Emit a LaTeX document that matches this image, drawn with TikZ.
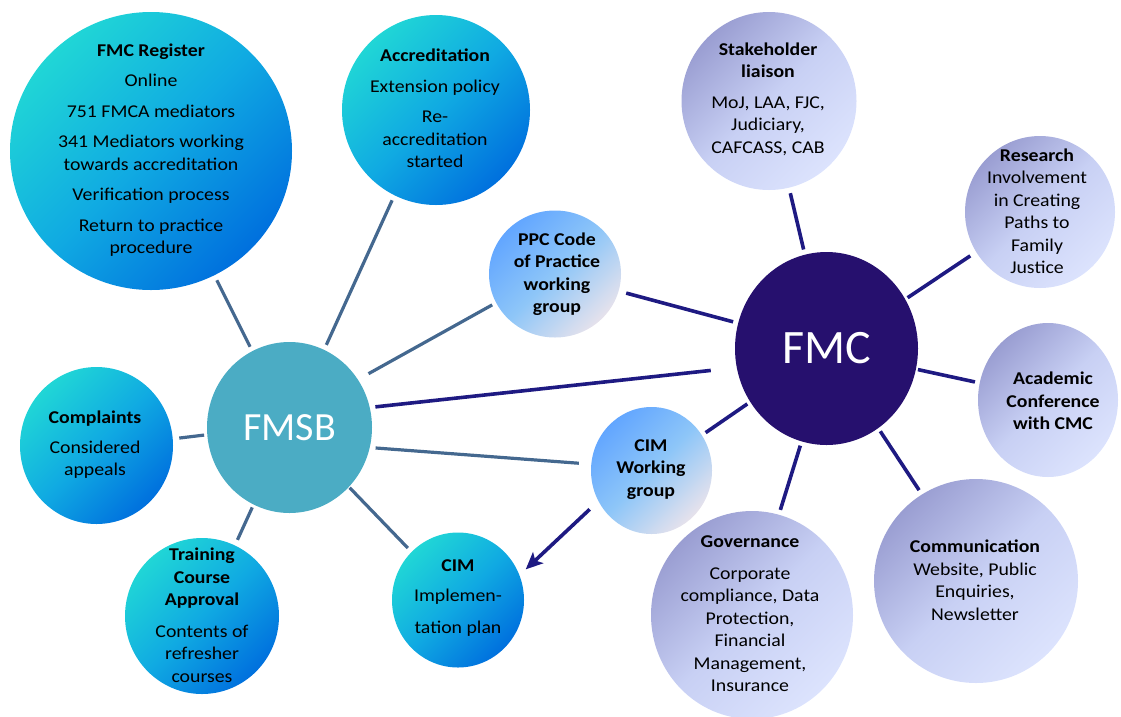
\documentclass[tikz,border=0pt]{standalone}
\usepackage{fontspec}
\setmainfont{Carlito}[FakeStretch=1.1]
\newfontfamily\bigfont{Carlito}
\usetikzlibrary{shapes.geometric,arrows.meta}
\definecolor{cTealA}{HTML}{20D6D6}
\definecolor{cTealM}{HTML}{10AAE2}
\definecolor{cTealB}{HTML}{0070DE}
\definecolor{cLavA}{HTML}{9A9ED2}
\definecolor{cLavM}{HTML}{C8D0F4}
\definecolor{cLavB}{HTML}{DCE3FD}
\definecolor{cBlueA}{HTML}{62A6FF}
\definecolor{cBlueM}{HTML}{8EC6F8}
\definecolor{cBlueB}{HTML}{E6E2EC}
\definecolor{cFMSB}{HTML}{4BACC4}
\definecolor{cFMC}{HTML}{26106E}
\definecolor{cLineA}{HTML}{44688F}
\definecolor{cLineB}{HTML}{1E1A82}
\tikzset{
  ball/.style={ellipse, inner sep=0pt, draw=none},
  tealball/.style={ball, top color=cTealA, bottom color=cTealB, middle color=cTealM, shading angle=45},
  lavball/.style={ball, top color=cLavA, bottom color=cLavB, middle color=cLavM, shading angle=45},
  blueball/.style={ball, top color=cBlueA, bottom color=cBlueB, middle color=cBlueM, shading angle=45},
  txt/.style={align=center, inner sep=0pt, text=black, font=\fontsize{18}{22.5}\selectfont},
  linka/.style={draw=cLineA, line width=3.2pt},
  linkb/.style={draw=cLineB, line width=3.6pt},
}
\begin{document}
\begin{tikzpicture}[x=1pt,y=-1pt]
\useasboundingbox (0,0) rectangle (1121,716);
% circles
\node[tealball, minimum width=282pt, minimum height=278pt] (reg) at (151,151) {};
\node[tealball, minimum width=188pt, minimum height=190pt] (acc) at (436,110) {};
\node[blueball, minimum width=132pt, minimum height=127pt] (ppc) at (555,274) {};
\node[lavball, minimum width=175pt, minimum height=178pt] (stk) at (769,101) {};
\node[lavball, minimum width=150pt, minimum height=152pt] (res) at (1040,212) {};
\node[ball, fill=cFMC, minimum width=183pt, minimum height=193pt, text=white, font=\bigfont\fontsize{48}{52}\selectfont] (fmc) at (826.5,348.5) {FMC};
\node[lavball, minimum width=140pt, minimum height=154pt] (aca) at (1048,400) {};
\node[ball, fill=cFMSB, minimum width=165pt, minimum height=171pt, text=white, font=\bigfont\fontsize{40}{44}\selectfont] (fmsb) at (289.5,427.5) {FMSB};
\node[tealball, minimum width=153pt, minimum height=157pt] (cmp) at (96.5,445.5) {};
\node[tealball, minimum width=154pt, minimum height=156pt] (trn) at (202,616) {};
\node[tealball, minimum width=132pt, minimum height=135pt] (cim) at (458,600) {};
\node[blueball, minimum width=121pt, minimum height=127pt] (cwg) at (651.5,470.5) {};
\node[lavball, minimum width=202pt, minimum height=208pt] (gov) at (752,615) {};
\node[lavball, minimum width=204pt, minimum height=204pt] (com) at (976,581) {};
% texts
\node[txt] (regT) at (151,150) {\textbf{FMC Register}\\[8pt] Online\\[8pt] 751 FMCA mediators\\[8pt] 341 Mediators working\\towards accreditation\\[8pt] Verification process\\[8pt] Return to practice\\procedure};
\node[txt] (accT) at (435,108.5) {\textbf{Accreditation}\\[8pt] Extension policy\\[8pt] Re-\\accreditation\\started};
\node[txt] (cmpT) at (95,445) {\textbf{Complaints}\\[7pt] Considered\\appeals};
\node[txt] (trnT) at (202,615) {\textbf{Training}\\\textbf{Course}\\\textbf{Approval}\\[9pt] Contents of\\refresher\\courses};
\node[txt] (cimT) at (458,598) {\textbf{CIM}\\[8pt] Implemen-\\[9pt] tation plan};
\node[txt] (ppcT) at (557,274) {\textbf{PPC Code}\\\textbf{of Practice}\\\textbf{working}\\\textbf{group}};
\node[txt] (stkT) at (768,99) {\textbf{Stakeholder}\\\textbf{liaison}\\[8pt] MoJ, LAA, FJC,\\Judiciary,\\CAFCASS, CAB};
\node[txt] (resT) at (1037,211) {\textbf{Research}\\Involvement\\in Creating\\Paths to\\Family\\Justice};
\node[txt] (acaT) at (1053,401) {\textbf{Academic}\\\textbf{Conference}\\\textbf{with CMC}};
\node[txt] (cwgT) at (651,469.5) {\textbf{CIM}\\\textbf{Working}\\\textbf{group}};
\node[txt] (govT) at (750,614) {\textbf{Governance}\\[9pt] Corporate\\compliance, Data\\Protection,\\Financial\\Management,\\Insurance};
\node[txt] (comT) at (975,580) {\textbf{Communication}\\Website, Public\\Enquiries,\\Newsletter};
% FMSB links
\draw[linka, shorten >=5.5pt, shorten <=4.8pt] (fmsb.116) -- (reg.-63);
\draw[linka, shorten >=5.4pt, shorten <=5.3pt] (fmsb.66) -- (acc.-116);
\draw[linka, shorten >=4.3pt, shorten <=12pt] (fmsb.35) -- (ppc.-154.5);
\draw[linka, shorten >=12.3pt, shorten <=5.7pt] (fmsb.-14.7) -- (cwg.174);
\draw[linka, shorten >=5.3pt, shorten <=1pt] (fmsb.-45.5) -- (cim.134);
\draw[linka, shorten >=6pt, shorten <=3pt] (fmsb.-115.3) -- (trn.65.3);
\draw[linka, shorten >=6.4pt, shorten <=3pt] (fmsb.-175.7) -- (cmp.5.9);
% FMC links
\draw[linkb, shorten >=26pt, shorten <=5.5pt] (fmsb.14.1) -- (fmc.-168);
\draw[linkb, shorten >=5.1pt, shorten <=7.7pt] (ppc.-15) -- (fmc.164.7);
\draw[linkb, shorten >=3.4pt, shorten <=4.4pt] (cwg.35.7) -- (fmc.-145.6);
\draw[linkb, shorten >=5.2pt, shorten <=5.5pt] (stk.-77.1) -- (fmc.103.4);
\draw[linkb, shorten >=2.7pt, shorten <=6.9pt] (res.-148.4) -- (fmc.32.6);
\draw[linkb, shorten >=1.9pt, shorten <=4.7pt] (aca.166.9) -- (fmc.-13.2);
\draw[linkb, shorten >=4.3pt, shorten <=4.9pt] (gov.75.1) -- (fmc.-105.9);
\draw[linkb, shorten >=3.6pt, shorten <=5pt] (com.122.8) -- (fmc.-57.8);
% arrow
\draw[linkb, -{Stealth[length=17pt,width=15pt,inset=4pt]}, shorten >=8.4pt, shorten <=11.8pt] (cwg.-150) -- (cim.22.1);
\end{tikzpicture}
\end{document}
